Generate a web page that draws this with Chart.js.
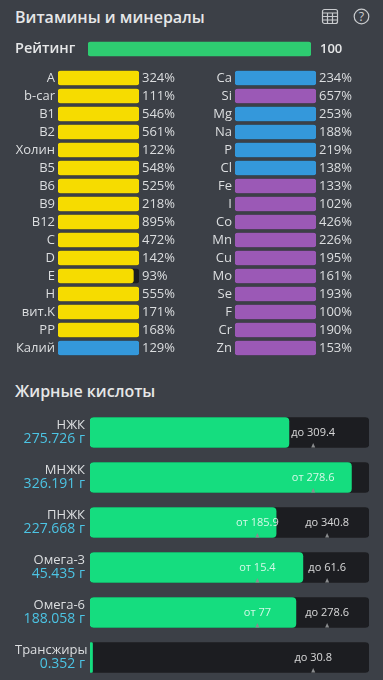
<!DOCTYPE html>
<html lang="ru">
<head>
<meta charset="utf-8">
<title>Витамины и минералы</title>
<script src="https://cdn.jsdelivr.net/npm/chart.js@4"></script>
<style>
  html, body { margin: 0; padding: 0; width: 383px; height: 680px; overflow: hidden; background: #3c4047; }
  body { position: relative; font-family: "Open Sans", sans-serif; color: #e6e7e8; }
  canvas { position: absolute; display: block; }
  h2 { position: absolute; left: 15px; margin: 0; font-size: 16px; line-height: 22px; font-weight: 600; white-space: nowrap; }
  svg { position: absolute; top: 8px; }
</style>
</head>
<body>
<h2 style="top:6px">Витамины и минералы</h2>
<svg style="left:321px" width="18" height="17" viewBox="0 0 18 17" fill="none" stroke="#c9cbce" stroke-width="1.2">
  <rect x="1.5" y="1.5" width="15" height="14" rx="2"/>
  <path d="M1.5 5h15M1.5 8.5h15M1.5 12h15M6.5 5v10.5M11.5 5v10.5"/>
</svg>
<svg style="left:353px" width="17" height="17" viewBox="0 0 17 17" fill="none" stroke="#c9cbce" stroke-width="1.2">
  <circle cx="8.5" cy="8.5" r="7.3"/>
  <text x="8.5" y="13" text-anchor="middle" fill="#c9cbce" stroke="none" font-size="12.5" font-family="Open Sans">?</text>
</svg>
<canvas id="rating" width="383" height="30" style="left:0;top:34px"></canvas>
<canvas id="vitamins" width="191" height="288" style="left:0;top:69px"></canvas>
<canvas id="minerals" width="192" height="288" style="left:191px;top:69px"></canvas>
<h2 style="top:380px">Жирные кислоты</h2>
<canvas id="fats" width="383" height="270" style="left:0;top:410px"></canvas>

<script>
var ratingLabel = ["Рейтинг"];
var ratingValue = [100];

var vitaminNames = ["A", "b-car", "B1", "B2", "Холин", "B5", "B6", "B9", "B12", "C", "D", "E", "H", "вит.K", "PP", "Калий"];
var vitaminValues = [324, 111, 546, 561, 122, 548, 525, 218, 895, 472, 142, 93, 555, 171, 168, 129];

var mineralNames = ["Ca", "Si", "Mg", "Na", "P", "Cl", "Fe", "I", "Co", "Mn", "Cu", "Mo", "Se", "F", "Cr", "Zn"];
var mineralValues = [234, 657, 253, 188, 219, 138, 133, 102, 426, 226, 195, 161, 193, 100, 190, 153];

// these go blue, other minerals purple
var macroNames = ["Калий", "Ca", "Mg", "Na", "P", "Cl"];

var fatNames = ["НЖК", "МНЖК", "ПНЖК", "Омега-3", "Омега-6", "Трансжиры"];
var fatGrams = ["275.726 г", "326.191 г", "227.668 г", "45.435 г", "188.058 г", "0.352 г"];
// bar fill in percent of the track
var fatFill = [71.3, 93.7, 66.7, 76.3, 73.8, 0.9];
var fatFromText = [null, "от 278.6", "от 185.9", "от 15.4", "от 77", null];
var fatFromMark = [null, 80, 60, 60, 60, null];
var fatToText = ["до 309.4", null, "до 340.8", "до 61.6", "до 278.6", "до 30.8"];
var fatToMark = [80, null, 85, 85, 85, 80];

var textColor = "#dcdee0";
var trackColor = "#1c1d21";
var yellow = "#f6dc00";
var blue = "#3498db";
var purple = "#9b59b6";

Chart.defaults.animation = false;
Chart.defaults.responsive = false;
Chart.defaults.font.family = '"Open Sans", sans-serif';
Chart.defaults.plugins.legend.display = false;
Chart.defaults.plugins.tooltip.enabled = false;

function capped(list) {
  return list.map(function (v) { return Math.min(v, 100); });
}

function fullTrack(list) {
  return list.map(function () { return 100; });
}

// fixed axis width and no extra room for the first/last tick label
function fixAxis(width) {
  return function (scale) {
    scale.width = width;
    scale.paddingTop = 0;
    scale.paddingBottom = 0;
  };
}

function nutrientChart(id, names, values, axisWidth, color) {
  new Chart(document.getElementById(id), {
    type: "bar",
    data: {
      labels: names,
      datasets: [
        { data: capped(values), backgroundColor: names.map(color), barThickness: 14, borderRadius: 3, borderSkipped: false },
        { data: fullTrack(values), backgroundColor: trackColor, barThickness: 14, borderRadius: 3, borderSkipped: false }
      ]
    },
    options: {
      indexAxis: "y",
      grouped: false,
      layout: { padding: { right: id == "vitamins" ? 52 : 67 } },
      scales: {
        x: { display: false, min: 0, max: 100 },
        y: {
          afterFit: fixAxis(axisWidth),
          grid: { display: false, drawTicks: false },
          border: { display: false },
          ticks: { color: textColor, autoSkip: false, padding: 3, font: { size: 13 } }
        }
      }
    },
    plugins: [{
      id: "percentLabels",
      afterDraw: function (chart) {
        var ctx = chart.ctx;
        ctx.save();
        ctx.font = '13px "Open Sans"';
        ctx.fillStyle = textColor;
        ctx.textBaseline = "middle";
        values.forEach(function (v, i) {
          ctx.fillText(v + "%", chart.chartArea.right + 3, chart.scales.y.getPixelForValue(i));
        });
        ctx.restore();
      }
    }]
  });
}

new Chart(document.getElementById("rating"), {
  type: "bar",
  data: {
    labels: ratingLabel,
    datasets: [{ data: ratingValue, backgroundColor: "#2ecc71", barThickness: 14, borderRadius: 3, borderSkipped: false }]
  },
  options: {
    indexAxis: "y",
    layout: { padding: { left: 15, right: 72 } },
    scales: {
      x: { display: false, min: 0, max: 100 },
      y: {
        afterFit: fixAxis(73),
        grid: { display: false, drawTicks: false },
        border: { display: false },
        ticks: { color: "#e6e7e8", crossAlign: "far", padding: 0, font: { size: 14.5, weight: "600" } }
      }
    }
  },
  plugins: [{
    id: "ratingValue",
    afterDraw: function (chart) {
      var ctx = chart.ctx;
      ctx.save();
      ctx.font = '600 13px "Open Sans"';
      ctx.fillStyle = "#e6e7e8";
      ctx.textBaseline = "middle";
      ctx.fillText(ratingValue[0], chart.chartArea.right + 9, chart.scales.y.getPixelForValue(0));
      ctx.restore();
    }
  }]
});

nutrientChart("vitamins", vitaminNames, vitaminValues, 58, function (name) {
  return macroNames.indexOf(name) >= 0 ? blue : yellow;
});
nutrientChart("minerals", mineralNames, mineralValues, 44, function (name) {
  return macroNames.indexOf(name) >= 0 ? blue : purple;
});

new Chart(document.getElementById("fats"), {
  type: "bar",
  data: {
    labels: fatNames,
    datasets: [
      { data: fatFill, backgroundColor: "#15dd7f", barThickness: 30, borderRadius: 4, borderSkipped: false },
      { data: fullTrack(fatFill), backgroundColor: trackColor, barThickness: 30, borderRadius: 4, borderSkipped: false }
    ]
  },
  options: {
    indexAxis: "y",
    grouped: false,
    layout: { padding: { left: 90, right: 14 } },
    scales: {
      x: { display: false, min: 0, max: 100 },
      y: { display: false }
    }
  },
  plugins: [{
    id: "fatLabels",
    afterDraw: function (chart) {
      var ctx = chart.ctx;
      var x = chart.scales.x;
      var y = chart.scales.y;

      function limit(text, mark, rowY) {
        if (text === null) return;
        var px = x.getPixelForValue(mark);
        ctx.fillStyle = "#8a8c8e";
        ctx.beginPath();
        ctx.moveTo(px - 2, rowY + 15);
        ctx.lineTo(px, rowY + 10.5);
        ctx.lineTo(px + 2, rowY + 15);
        ctx.fill();
        ctx.font = '11px "Open Sans"';
        ctx.fillStyle = "rgba(255,255,255,0.82)";
        ctx.textAlign = "center";
        ctx.fillText(text, px, rowY);
      }

      ctx.save();
      ctx.textBaseline = "middle";
      fatNames.forEach(function (name, i) {
        var rowY = y.getPixelForValue(i);
        limit(fatFromText[i], fatFromMark[i], rowY);
        limit(fatToText[i], fatToMark[i], rowY);

        // long names stop at the left margin and stick out to the right
        ctx.font = '13px "Open Sans"';
        ctx.textAlign = "right";
        ctx.fillStyle = textColor;
        ctx.fillText(name, Math.max(85, 15 + ctx.measureText(name).width), rowY - 7);
        ctx.font = '14px "Open Sans"';
        ctx.fillStyle = "#4cc4e4";
        ctx.fillText(fatGrams[i], 85, rowY + 7);
      });
      ctx.restore();
    }
  }]
});
</script>
</body>
</html>
